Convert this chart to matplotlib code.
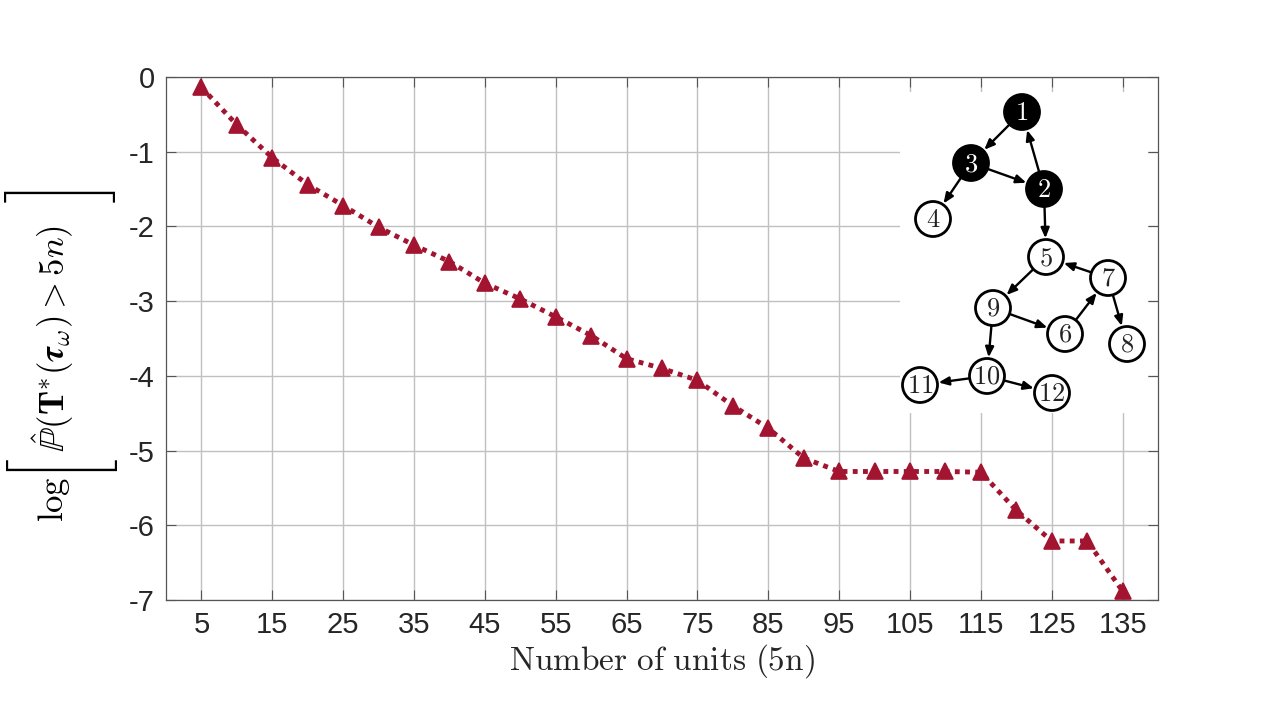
import os
import numpy as np
import matplotlib
matplotlib.use('Agg')
import matplotlib.pyplot as plt
from matplotlib.patches import Circle
from matplotlib.font_manager import FontProperties
from matplotlib.mathtext import MathTextParser

# data
units = [5, 10, 15, 20, 25, 30, 35, 40, 45, 50, 55, 60, 65, 70,
         75, 80, 85, 90, 95, 100, 105, 110, 115, 120, 125, 130, 135]
log_prob = [-0.14, -0.64, -1.08, -1.44, -1.72, -2.01, -2.25, -2.47, -2.76,
            -2.97, -3.21, -3.46, -3.77, -3.90, -4.06, -4.40, -4.70, -5.10,
            -5.28, -5.28, -5.28, -5.28, -5.29, -5.80, -6.21, -6.21, -6.88]
x_ticks = [5, 15, 25, 35, 45, 55, 65, 75, 85, 95, 105, 115, 125, 135]
y_ticks = [-7, -6, -5, -4, -3, -2, -1, 0]

# inset graph
graph_nodes = [1, 2, 3, 4, 5, 6, 7, 8, 9, 10, 11, 12]
visited = [1, 2, 3]
graph_edges = [(1, 3), (2, 1), (3, 2), (3, 4), (2, 5), (5, 9), (7, 5),
               (9, 6), (6, 7), (7, 8), (9, 10), (10, 11), (10, 12)]
# node layout in inset pixel units
layout = {1: (1022, 112), 2: (1044, 189), 3: (971, 163), 4: (933, 219),
          5: (1046, 257), 6: (1065, 334), 7: (1108, 278), 8: (1127, 344),
          9: (993, 308), 10: (987, 376), 11: (920, 385), 12: (1052, 393)}

plt.rcParams['font.family'] = ['Liberation Sans', 'DejaVu Sans']
plt.rcParams['mathtext.fontset'] = 'cm'
plt.rcParams['axes.unicode_minus'] = False


def mathtext_ok(s):
    try:
        MathTextParser('agg').parse(s, dpi=100)
        return True
    except Exception:
        return False


W, H = 1280, 720
fig = plt.figure(figsize=(W / 100, H / 100), dpi=100)
ax = fig.add_axes([166 / W, 1 - 600 / H, 992 / W, 523 / H])

red = '#A2142F'
ax.plot(units, log_prob, color=red, linestyle=(0, (1, 1.1)), linewidth=3.5,
        marker='^', markersize=12, markerfacecolor=red, markeredgecolor=red,
        markeredgewidth=1.2, clip_on=False, zorder=3)

ax.set_xlim(0, 140)
ax.set_ylim(-7, 0)
ax.set_xticks(x_ticks)
ax.set_yticks(y_ticks)
ax.set_yticklabels([str(v) for v in y_ticks])
ax.grid(True, color='#c0c0c0', linewidth=1)
ax.set_axisbelow(True)
ax.tick_params(direction='in', length=7, width=0.8, top=True, right=True,
               color='#555555', labelcolor='#262626', labelsize=21, pad=8)
for s in ax.spines.values():
    s.set_color('#555555')
    s.set_linewidth(0.9)

ax.set_xlabel(r'$\mathrm{Number\ of\ units\ (5n)}$', fontsize=24, labelpad=2,
              color='#262626')

# y label: log [ P(T*(tau_w) > 5n) ] with tall brackets
tau = r'\tau'
for cand in [r'\boldsymbol{\tau}', r'\mathbfit{\tau}']:
    if mathtext_ok('$' + cand + '$'):
        tau = cand
        break
fig.text(63 / W, 1 - 522 / H, r'$\log$', rotation=90, rotation_mode='anchor',
         ha='left', va='baseline', fontsize=25)
fig.text(65 / W, 1 - 452 / H,
         r'$\hat{\mathbb{P}}(\mathbf{T}^{*}(' + tau + r'_{\omega}) > 5n)$',
         rotation=90, rotation_mode='anchor', ha='left', va='baseline', fontsize=25)
cmex = FontProperties(fname=os.path.join(matplotlib.get_data_path(),
                                         'fonts', 'ttf', 'cmex10.ttf'), size=26)
fig.text(53 / W, 1 - 460 / H, '\x22', fontproperties=cmex, rotation=90,
         ha='center', va='center')
fig.text(60 / W, 1 - 191 / H, '\x23', fontproperties=cmex, rotation=90,
         ha='center', va='center')

# inset with the graph, white background hides the grid
ins = fig.add_axes([900 / W, 1 - 413 / H, 248 / W, 321 / H])
ins.set_xlim(900, 1148)
ins.set_ylim(413, 92)
ins.set_facecolor('white')
ins.set_xticks([])
ins.set_yticks([])
for s in ins.spines.values():
    s.set_visible(False)

r = 17.5
for a, b in graph_edges:
    ins.annotate('', xy=layout[b], xytext=layout[a],
                 arrowprops=dict(arrowstyle='-|>,head_length=0.6,head_width=0.25',
                                 color='black', lw=1.7, shrinkA=13, shrinkB=13.5))
for n in graph_nodes:
    filled = n in visited
    ins.add_patch(Circle(layout[n], r, facecolor='black' if filled else 'white',
                         edgecolor='black', linewidth=2.0, zorder=3))
    ins.text(layout[n][0], layout[n][1] + 1, r'$%d$' % n, ha='center', va='center',
             fontsize=19, color='white' if filled else '#222222', zorder=4)

fig.savefig('out.png', dpi=100)
